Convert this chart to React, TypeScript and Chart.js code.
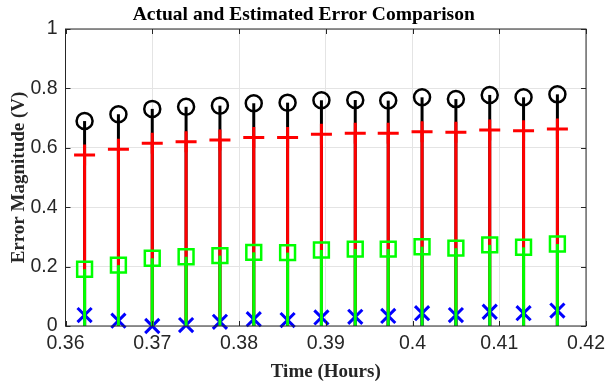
import { useEffect, useRef } from "react";
import { Chart, registerables } from "chart.js";

Chart.register(...registerables);

// Sample times (hours)
const timeHours = [
  0.3622, 0.3661, 0.37, 0.3739, 0.3778, 0.3817, 0.3856, 0.3895, 0.3934, 0.3972,
  0.4011, 0.405, 0.4089, 0.4128, 0.4167,
];

// Error magnitudes (V) for each series
const actualError = [
  0.69, 0.713, 0.731, 0.738, 0.742, 0.75, 0.752, 0.76, 0.761, 0.759, 0.77, 0.764,
  0.778, 0.77, 0.78,
];
const estimatedError = [
  0.576, 0.595, 0.615, 0.62, 0.626, 0.635, 0.635, 0.646, 0.649, 0.649, 0.654, 0.652,
  0.66, 0.657, 0.663,
];
const filteredError = [
  0.191, 0.205, 0.228, 0.233, 0.237, 0.248, 0.247, 0.256, 0.259, 0.259, 0.267, 0.262,
  0.273, 0.265, 0.276,
];
const residualError = [
  0.037, 0.018, 0.0, 0.003, 0.014, 0.023, 0.02, 0.029, 0.031, 0.034, 0.043, 0.037,
  0.048, 0.043, 0.052,
];

const xTicks = [0.36, 0.37, 0.38, 0.39, 0.4, 0.41, 0.42];
const yTicks = [0, 0.2, 0.4, 0.6, 0.8, 1];

const titleText = "Actual and Estimated Error Comparison";
const xTitle = "Time (Hours)";
const yTitle = "Error Magnitude (V)";

const AXIS_COLOR = "#262626";
const SANS = "'Liberation Sans', Arial, sans-serif";
const SERIF = "'Liberation Serif', 'Times New Roman', serif";

const toPoints = (vals: number[]) => vals.map((v, i) => ({ x: timeHours[i], y: v }));

// Vertical stems from zero to each point, drawn just before the dataset's markers
const stemPlugin = {
  id: "stems",
  beforeDatasetDraw(chart: any, args: any) {
    const ds = chart.data.datasets[args.index];
    const ctx = chart.ctx;
    const y0 = chart.scales.y.getPixelForValue(0);
    ctx.save();
    ctx.strokeStyle = ds.borderColor;
    ctx.lineWidth = 3;
    ctx.lineCap = "butt";
    for (const el of args.meta.data) {
      ctx.beginPath();
      ctx.moveTo(el.x, y0);
      ctx.lineTo(el.x, el.y);
      ctx.stroke();
    }
    ctx.restore();
  },
};

// Axes box, inward tick marks and the text titles
const framePlugin = {
  id: "frame",
  afterDatasetsDraw(chart: any) {
    const { ctx, chartArea: a, scales } = chart;
    ctx.save();
    ctx.strokeStyle = AXIS_COLOR;
    ctx.lineWidth = 1;
    ctx.strokeRect(a.left, a.top, a.right - a.left, a.bottom - a.top);
    const tl = 5;
    ctx.beginPath();
    for (const v of xTicks) {
      const x = Math.round(scales.x.getPixelForValue(v)) + 0.5;
      ctx.moveTo(x, a.bottom);
      ctx.lineTo(x, a.bottom - tl);
      ctx.moveTo(x, a.top);
      ctx.lineTo(x, a.top + tl);
    }
    for (const v of yTicks) {
      const y = Math.round(scales.y.getPixelForValue(v)) + 0.5;
      ctx.moveTo(a.left, y);
      ctx.lineTo(a.left + tl, y);
      ctx.moveTo(a.right, y);
      ctx.lineTo(a.right - tl, y);
    }
    ctx.stroke();
    ctx.restore();
  },
  afterDraw(chart: any) {
    const { ctx, chartArea: a } = chart;
    const cx = (a.left + a.right) / 2;
    ctx.save();
    ctx.fillStyle = "#000";
    ctx.textAlign = "center";
    ctx.textBaseline = "middle";
    ctx.font = `bold 19.5px ${SERIF}`;
    ctx.fillText(titleText, cx - 22, 15);
    ctx.fillStyle = AXIS_COLOR;
    ctx.font = `bold 19px ${SERIF}`;
    ctx.fillText(xTitle, cx, 372);
    ctx.translate(19, (a.top + a.bottom) / 2);
    ctx.rotate(-Math.PI / 2);
    ctx.fillText(yTitle, 0, 0);
    ctx.restore();
  },
};

export default function App() {
  const canvasRef = useRef<HTMLCanvasElement | null>(null);

  useEffect(() => {
    document.body.style.margin = "0";
    const canvas = canvasRef.current;
    if (!canvas) return;

    const chart = new Chart(canvas, {
      type: "scatter",
      data: {
        datasets: [
          {
            label: "Actual",
            data: toPoints(actualError),
            borderColor: "#000000",
            backgroundColor: "rgba(0,0,0,0)",
            pointStyle: "circle",
            pointRadius: 8,
            pointBorderWidth: 2.5,
            order: 4,
            clip: false,
          },
          {
            label: "Estimated",
            data: toPoints(estimatedError),
            borderColor: "#ff0000",
            backgroundColor: "rgba(0,0,0,0)",
            pointStyle: "cross",
            pointRadius: 10.5,
            pointBorderWidth: 3,
            order: 3,
            clip: false,
          },
          {
            label: "Residual",
            data: toPoints(residualError),
            borderColor: "#0000ff",
            backgroundColor: "rgba(0,0,0,0)",
            pointStyle: "crossRot",
            pointRadius: 10,
            pointBorderWidth: 3,
            order: 2,
            clip: false,
          },
          {
            label: "Filtered",
            data: toPoints(filteredError),
            borderColor: "#00ff00",
            backgroundColor: "rgba(0,0,0,0)",
            pointStyle: "rect",
            pointRadius: 10.5,
            pointBorderWidth: 2.5,
            order: 1,
            clip: false,
          },
        ],
      },
      options: {
        responsive: false,
        animation: false,
        devicePixelRatio: 1,
        layout: { padding: { left: 0, right: 19, top: 29, bottom: 0 } },
        plugins: {
          legend: { display: false },
          tooltip: { enabled: false },
          title: { display: false },
        },
        scales: {
          x: {
            type: "linear",
            min: 0.36,
            max: 0.42,
            afterBuildTicks: (scale: any) => {
              scale.ticks = xTicks.map((v) => ({ value: v }));
            },
            afterFit: (scale: any) => {
              scale.height = 58;
            },
            ticks: {
              autoSkip: false,
              maxRotation: 0,
              padding: 6,
              color: AXIS_COLOR,
              font: { family: SANS, size: 19.5 },
              callback: (v: any) => String(Number(Number(v).toFixed(2))),
            },
            grid: { color: "#e4e4e4", lineWidth: 1, drawTicks: false },
            border: { display: false },
          },
          y: {
            type: "linear",
            min: 0,
            max: 1,
            afterBuildTicks: (scale: any) => {
              scale.ticks = yTicks.map((v) => ({ value: v }));
            },
            afterFit: (scale: any) => {
              scale.width = 65.5;
            },
            ticks: {
              autoSkip: false,
              padding: 8,
              color: AXIS_COLOR,
              font: { family: SANS, size: 19.5 },
              callback: (v: any) => String(Number(Number(v).toFixed(1))),
            },
            grid: { color: "#e4e4e4", lineWidth: 1, drawTicks: false },
            border: { display: false },
          },
        },
      },
      plugins: [stemPlugin, framePlugin],
    });

    return () => chart.destroy();
  }, []);

  return (
    <div style={{ position: "absolute", left: 0, top: 0, width: 611, height: 384, background: "#fff" }}>
      <canvas ref={canvasRef} width={611} height={384} />
    </div>
  );
}
